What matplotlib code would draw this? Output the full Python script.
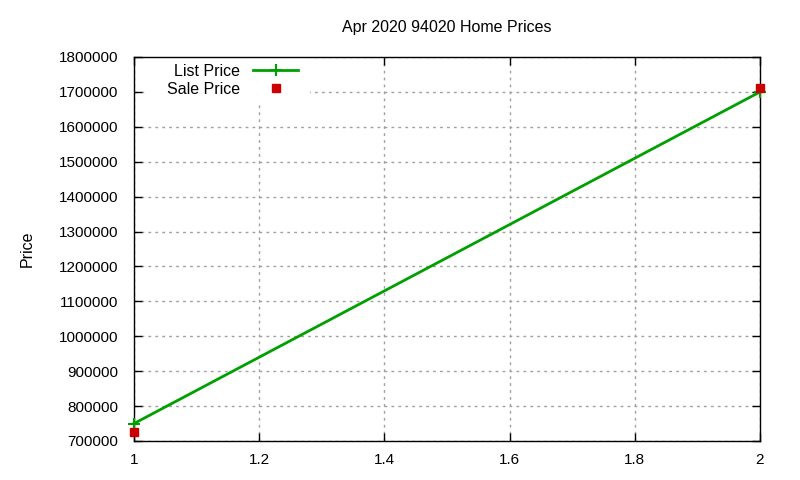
import matplotlib
matplotlib.use("Agg")
import matplotlib.pyplot as plt
from matplotlib.ticker import MultipleLocator
from matplotlib.patches import Rectangle

plt.rcParams['font.family'] = ['Liberation Sans', 'DejaVu Sans']

x_vals = [1, 2]
list_price = [750000, 1700000]
sale_price = [726000, 1711000]
x_ticks = [1, 1.2, 1.4, 1.6, 1.8, 2]
title = "Apr 2020 94020 Home Prices"

fig = plt.figure(figsize=(8, 4.8), dpi=100)
ax = fig.add_axes([134/800, 39/480, (760-134)/800, (441-57)/480])

ax.plot(x_vals, list_price, color='#00a000', lw=2, marker='+', ms=8, mew=1.5,
        label='List Price', zorder=3, clip_on=False)
ax.plot(x_vals, sale_price, color='#cc0000', lw=0, marker='s', ms=5.5,
        label='Sale Price', zorder=4, clip_on=False)

ax.set_xlim(1, 2)
ax.set_ylim(700000, 1800000)
ax.set_xticks(x_ticks)
ax.set_xticklabels([f"{t:g}" for t in x_ticks])
ax.yaxis.set_major_locator(MultipleLocator(100000))
ax.ticklabel_format(axis='y', style='plain', useOffset=False)
ax.tick_params(direction='in', top=True, right=True, length=6, width=1,
               labelsize=11)
ax.tick_params(axis='y', pad=11.5)
ax.tick_params(axis='x', pad=8.5)
ax.grid(True, color='#a0a0a0', linestyle=(0, (2, 3)), lw=1)
for s in ax.spines.values():
    s.set_linewidth(1.0)

ax.set_title(title, fontsize=11.5, pad=18)
ax.set_ylabel('Price', fontsize=11.5, labelpad=17)

# white key background
ax.add_patch(Rectangle((145/800, (480-102)/480), 165/800, 45/480,
                       transform=fig.transFigure, facecolor='white',
                       edgecolor='none', zorder=2))

leg = ax.legend(loc='upper right', markerfirst=False, fontsize=11.5, frameon=False,
                borderaxespad=0.0, handlelength=2.8, handletextpad=0.8,
                labelspacing=0.18, borderpad=0.0,
                bbox_to_anchor=(298/800, (480-64)/480), bbox_transform=fig.transFigure)
leg.set_zorder(2.2)

fig.savefig('out.png', dpi=100)
